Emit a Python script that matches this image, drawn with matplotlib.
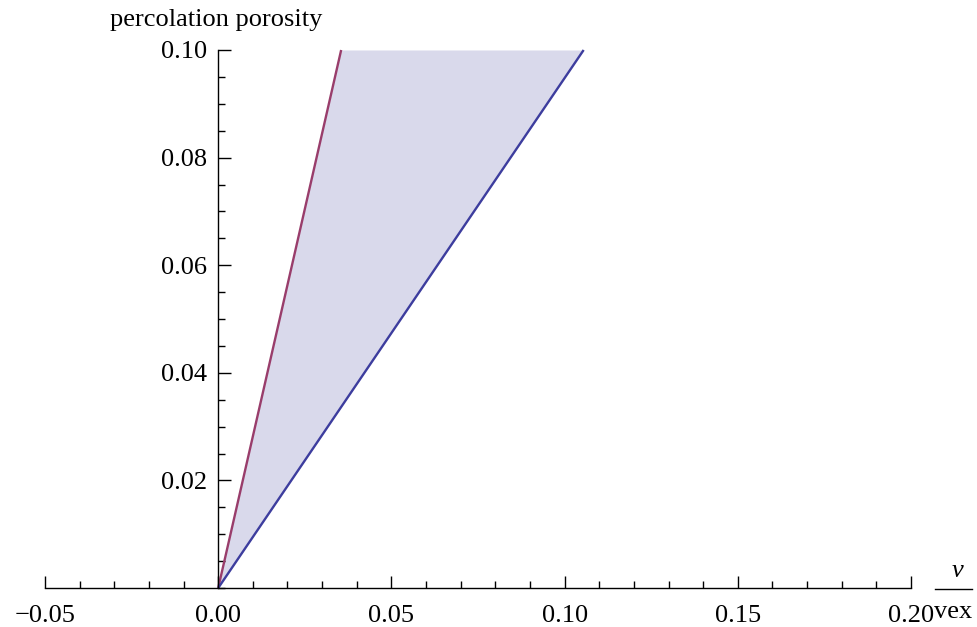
import matplotlib
matplotlib.use("Agg")
import matplotlib.pyplot as plt
from matplotlib.lines import Line2D
from matplotlib.ticker import MultipleLocator, FixedLocator

# Data
porosity = [0.0, 0.10]
v_lower = [0.0, 0.0355]   # red boundary line
v_upper = [0.0, 0.1055]   # blue boundary line
x_ticks = [-0.05, 0.00, 0.05, 0.10, 0.15, 0.20]
x_labels = ["\u22120.05", "0.00", "0.05", "0.10", "0.15", "0.20"]
y_ticks = [0.02, 0.04, 0.06, 0.08, 0.10]
y_labels = ["0.02", "0.04", "0.06", "0.08", "0.10"]

plt.rcParams['font.family'] = ['Liberation Serif', 'DejaVu Serif']
FS = 19
W, H = 977, 627
fig = plt.figure(figsize=(W / 100, H / 100), dpi=100)
left, right, bottom, top = 45, 911, 588, 50
ax = fig.add_axes([left / W, (H - bottom) / H, (right - left) / W, (bottom - top) / H])
ax.set_xlim(-0.05, 0.20)
ax.set_ylim(0.0, 0.10)

ax.fill_betweenx(porosity, v_lower, v_upper, color='#d9d9eb', lw=0, clip_on=False)
ax.plot(v_lower, porosity, color='#993d6b', lw=1.7, clip_on=False, solid_capstyle='butt')
ax.plot(v_upper, porosity, color='#3d3d9e', lw=1.7, clip_on=False, solid_capstyle='butt')

for s in ['top', 'right']:
    ax.spines[s].set_visible(False)
ax.spines['left'].set_position(('data', 0))
ax.spines['bottom'].set_position(('data', 0))
for s in ['left', 'bottom']:
    ax.spines[s].set_linewidth(1.0)
    ax.spines[s].set_color('black')

ax.xaxis.set_major_locator(FixedLocator(x_ticks))
ax.set_xticklabels(x_labels)
ax.xaxis.set_minor_locator(MultipleLocator(0.01))
ax.yaxis.set_major_locator(FixedLocator(y_ticks))
ax.set_yticklabels(y_labels)
ax.yaxis.set_minor_locator(MultipleLocator(0.005))

ax.tick_params(axis='x', which='major', direction='in', length=9, width=1, pad=12, labelsize=FS)
ax.tick_params(axis='x', which='minor', direction='in', length=5, width=1)
ax.tick_params(axis='y', which='major', direction='in', length=9, width=1, pad=8, labelsize=FS)
ax.tick_params(axis='y', which='minor', direction='in', length=5, width=1)

# y-axis label at top-left
fig.text(110 / W, 1 - 20 / H, "percolation porosity", fontsize=FS, ha='left', va='center')

# x-axis label as a fraction v / vex
fig.text(958 / W, 1 - 571 / H, "v", fontsize=FS, style='italic', ha='center', va='center')
fig.add_artist(Line2D([935 / W, 972 / W], [1 - 589 / H, 1 - 589 / H], color='black', lw=1.0))
fig.text(953 / W, 1 - 612 / H, "vex", fontsize=FS, ha='center', va='center')

fig.savefig("out.png", dpi=100)
